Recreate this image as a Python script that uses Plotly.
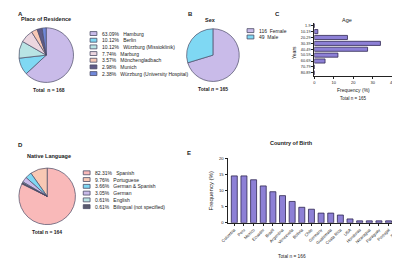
import plotly.graph_objects as go

W, H = 400, 258

# ---------------- data ----------------
res_labels = ["Hamburg", "Berlin", "Würzburg (Missioklinik)", "Marburg",
              "Mönchengladbach", "Munich", "Würzburg (University Hospital)"]
res_values = [63.09, 10.12, 10.12, 7.74, 3.57, 2.98, 2.38]
res_colors = ["#c9bbe9", "#7fd8f3", "#b9e4e4", "#ecd6df", "#f8c8b4", "#5f5b88", "#7088da"]

sex_labels = ["Female", "Male"]
sex_values = [116, 49]
sex_colors = ["#c9bbe9", "#7fd8f3"]

lang_labels = ["Spanish", "Portuguese", "German & Spanish", "German", "English",
               "Bilingual (not specified)"]
lang_values = [82.31, 9.76, 3.66, 3.05, 0.61, 0.61]
lang_colors = ["#f9b9b9", "#f8c8b4", "#7fd8f3", "#c9bbe9", "#b9e4e4", "#5a5a6e"]

age_groups = ["1-9", "10-19", "20-29", "30-39", "40-49", "50-59", "60-69", "70-79", "80-89"]
age_freq = [0.0, 1.8, 17.0, 33.9, 27.3, 12.1, 5.5, 0.0, 0.0]
age_ticks = [0, 10, 20, 30, 40]

countries = ["Colombia", "Peru", "Mexico", "Ecuador", "Brazil", "Argentina", "Venezuela",
             "Bolivia", "Chile", "Germany", "Guatemala", "Costa Rica", "USA", "Honduras",
             "Nicaragua", "Paraguay", "Portugal", "Spain"]
country_freq = [14.5, 14.5, 13.3, 11.4, 9.6, 8.4, 6.6, 4.8, 4.2, 3.0, 3.0, 2.4, 1.2,
                0.6, 0.6, 0.6, 0.6, 0.6]
country_ticks = [0, 5, 10, 15, 20]

totals = {"A": 168, "B": 165, "C": 165, "D": 164, "E": 166}

# ---------------- helpers ----------------
def px_x(x):
    return x / W

def px_y(y):
    return (H - y) / H

EDGE = "#4b4b66"
BAR = "#8d80d6"
BAR_EDGE = "#2e2650"
FONT = "Liberation Sans"

fig = go.Figure()
annotations = []
shapes = []

def pie(labels, values, colors, cx, cy, r, direction):
    fig.add_trace(go.Pie(
        labels=labels, values=values, sort=False, direction=direction, rotation=0,
        marker=dict(colors=colors, line=dict(color=EDGE, width=0.7)),
        textinfo="none", hoverinfo="label+value", showlegend=False,
        domain=dict(x=[px_x(cx - r), px_x(cx + r)], y=[px_y(cy + r), px_y(cy - r)]),
    ))

def text(x, y, s, size=5.5, bold=False, anchor="left", angle=0, color="#222"):
    annotations.append(dict(
        x=px_x(x), y=px_y(y), xref="paper", yref="paper", text=(f"<b>{s}</b>" if bold else s),
        showarrow=False, xanchor=anchor, yanchor="middle", textangle=angle,
        font=dict(family=FONT, size=size, color=color)))

def legend(items, colors, x0, y0, step, size=5):
    for i, (s, c) in enumerate(zip(items, colors)):
        y = y0 + i * step
        shapes.append(dict(type="rect", xref="paper", yref="paper",
                           x0=px_x(x0), x1=px_x(x0 + 7), y0=px_y(y + 2), y1=px_y(y - 2),
                           fillcolor=c, line=dict(color=EDGE, width=0.8)))
        text(x0 + 10, y, s, size=size)

# ---------------- Panel A ----------------
text(1, 3, "A", size=6, bold=True)
text(32, 8, "Place of Residence", size=5.5, bold=True, anchor="center")
pie(res_labels, res_values, res_colors, 32, 45, 28, "clockwise")
legend([f"{v:.2f}%   {l}" for l, v in zip(res_labels, res_values)], res_colors, 77, 23, 6.8)
text(35, 81, f"Total  n = {totals['A']}", size=5, bold=True, anchor="center")

# ---------------- Panel B ----------------
text(175, 3, "B", size=6, bold=True)
text(201, 9, "Sex", size=5.5, bold=True, anchor="center")
pie(sex_labels, sex_values, sex_colors, 203, 45, 27, "clockwise")
legend([f"{v}  {l}" for l, v in zip(sex_labels, sex_values)], sex_colors, 238, 20, 6.5)
text(203, 80, f"Total <i>n</i> = {totals['B']}", size=5, bold=True, anchor="center")

# ---------------- Panel D ----------------
text(1, 137, "D", size=6, bold=True)
text(35, 148, "Native Language", size=5.5, bold=True, anchor="center")
pie(lang_labels, lang_values, lang_colors, 33, 189, 29, "counterclockwise")
legend([f"{v:.2f}%   {l}" for l, v in zip(lang_labels, lang_values)], lang_colors, 70, 165, 6.9)
text(33, 225, f"Total n = {totals['D']}", size=5, bold=True, anchor="center")

# ---------------- Panel C (Age) ----------------
text(265, 3, "C", size=6, bold=True)
text(340, 9, "Age", size=5.5, anchor="center")
fig.add_trace(go.Bar(
    x=age_freq, y=age_groups, orientation="h", xaxis="x", yaxis="y",
    marker=dict(color=BAR, line=dict(color=BAR_EDGE, width=0.8)), width=0.7,
    showlegend=False))
text(347, 81, "Frequency (%)", size=5, anchor="center")
text(347, 89, f"Total n = {totals['C']}", size=4.5, anchor="center")
text(286, 42, "Years", size=5, anchor="center", angle=-90)

# ---------------- Panel E (Country) ----------------
text(174, 145, "E", size=6, bold=True)
text(284, 135, "Country of Birth", size=5.5, bold=True, anchor="center")
fig.add_trace(go.Bar(
    x=countries, y=country_freq, xaxis="x2", yaxis="y2",
    marker=dict(color=BAR, line=dict(color=BAR_EDGE, width=0.8)), width=0.62,
    showlegend=False))
text(201, 183, "Frequency (%)", size=6, anchor="center", angle=-90)
text(284, 250, f"Total n = {totals['E']}", size=4.8, anchor="center")

axis_common = dict(showgrid=False, zeroline=False, showline=True, linecolor="#222",
                   linewidth=1, ticks="outside", ticklen=2, tickwidth=1, tickcolor="#222")

fig.update_layout(
    width=W, height=H, margin=dict(l=0, r=0, t=0, b=0),
    paper_bgcolor="white", plot_bgcolor="white",
    xaxis=dict(domain=[px_x(307), px_x(387)], range=[0, 40], tickvals=age_ticks,
               anchor="y", tickfont=dict(family=FONT, size=4, color="#222"), **axis_common),
    yaxis=dict(domain=[px_y(66), px_y(12)], autorange=False, range=[8.5, -0.5],
               categoryorder="array", categoryarray=age_groups, anchor="x",
               tickfont=dict(family=FONT, size=3.8, color="#222"), **axis_common),
    xaxis2=dict(domain=[px_x(218), px_x(398)], range=[-0.7, 17.5], anchor="y2",
                tickangle=-45, tickfont=dict(family=FONT, size=4.2, color="#222"),
                **axis_common),
    yaxis2=dict(domain=[px_y(216), px_y(150)], range=[0, 20], tickvals=country_ticks,
                anchor="x2", tickfont=dict(family=FONT, size=4.2, color="#222"),
                **axis_common),
    annotations=annotations, shapes=shapes,
    bargap=0.3,
)

fig.write_html("out.html")
